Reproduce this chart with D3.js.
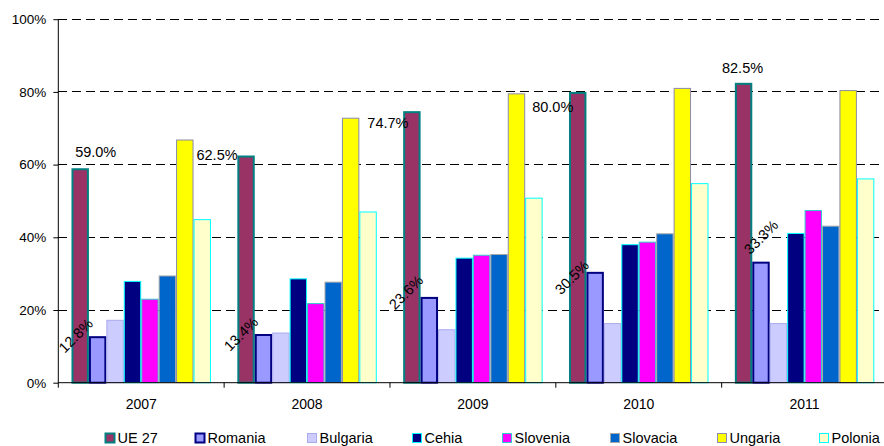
<!DOCTYPE html>
<html>
<head>
<meta charset="utf-8">
<script src="https://cdn.jsdelivr.net/npm/d3@7/dist/d3.min.js"></script>
<style>
  html, body { margin: 0; padding: 0; background: #fff; }
  svg { display: block; font-family: "Liberation Sans", Arial, sans-serif; }
</style>
</head>
<body>
<svg id="chart" width="884" height="446"></svg>
<script>
// ---------------- data ----------------
const categories = ["2007", "2008", "2009", "2010", "2011"];
const seriesNames = ["UE 27", "Romania", "Bulgaria", "Cehia", "Slovenia", "Slovacia", "Ungaria", "Polonia"];
const ue27     = [59.0, 62.5, 74.7, 80.0, 82.5];
const romania  = [12.8, 13.4, 23.6, 30.5, 33.3];
const bulgaria = [17.3, 13.8, 14.7, 16.4, 16.4];
const cehia    = [28.0, 28.7, 34.4, 38.1, 41.2];
const slovenia = [23.1, 21.9, 35.2, 38.8, 47.5];
const slovacia = [29.5, 27.8, 35.4, 41.1, 43.2];
const ungaria  = [66.9, 72.9, 79.6, 81.1, 80.5];
const polonia  = [45.0, 47.1, 50.9, 54.9, 56.2];
const yTickValues = [0, 20, 40, 60, 80, 100];

// ---------------- styles / layout ----------------
const seriesValues = [ue27, romania, bulgaria, cehia, slovenia, slovacia, ungaria, polonia];
const fills   = ["#993366", "#9999FF", "#CCCCFF", "#000080", "#FF00FF", "#0066CC", "#FFFF00", "#FFFFCC"];
const strokes = ["#008080", "#000080", "#AAAAEE", "#00FFFF", "#33CCCC", "#A8A8A8", "#8A8AAA", "#00FFFF"];
const strokeW = [2, 2, 1, 1, 1, 1, 1, 1];
// label offsets relative to bar centre / top (Excel-moved labels)
const ueLabelDx = [15.5, -29, -24, -25, -1];
const ueLabelDy = [-16.5, -0.5, 11.5, 14.7, -14.4];
const roLabelDx = [-22, -22.5, -23.3, -23.3, 0];
const roLabelDy = [-0.6, 0, -4.5, 5.5, -24.5];
const legendX = [105, 195, 307, 412, 502, 610, 717, 819];

const svg = d3.select("#chart");
const plotLeft = 58.3, plotRight = 887.5, plotTop = 19.2, plotBottom = 382.7;

const x0 = d3.scaleBand().domain(categories).range([plotLeft, plotRight]).paddingInner(0).paddingOuter(0);
const pad = x0.bandwidth() * 0.0795;
const x1 = d3.scaleBand().domain(seriesNames).range([pad, x0.bandwidth() - pad]).padding(0);
const y = d3.scaleLinear().domain([0, 100]).range([plotBottom, plotTop]);

// gridlines
svg.append("g").selectAll("line").data(yTickValues.filter(v => v > 0)).join("line")
  .attr("x1", plotLeft).attr("x2", 884)
  .attr("y1", d => y(d)).attr("y2", d => y(d))
  .attr("stroke", "#000").attr("stroke-width", 1)
  .attr("stroke-dasharray", "9,5")
  .attr("shape-rendering", "crispEdges");

// bars
const rows = [];
categories.forEach((c, i) => {
  seriesNames.forEach((s, j) => rows.push({ cat: c, ci: i, s: s, si: j, v: seriesValues[j][i] }));
});
svg.append("g").selectAll("rect").data(rows).join("rect")
  .attr("x", d => x0(d.cat) + x1(d.s) + strokeW[d.si] / 2)
  .attr("width", d => x1.bandwidth() - strokeW[d.si])
  .attr("y", d => y(d.v) + strokeW[d.si] / 2)
  .attr("height", d => Math.max(0, plotBottom - y(d.v) - strokeW[d.si] / 2))
  .attr("fill", d => fills[d.si])
  .attr("stroke", d => strokes[d.si])
  .attr("stroke-width", d => strokeW[d.si]);

// axes
const yAxis = d3.axisLeft(y).tickValues(yTickValues).tickFormat(d => d + "%").tickSize(5).tickPadding(7);
const gy = svg.append("g").attr("transform", `translate(${plotLeft},0)`).call(yAxis);
gy.select(".domain").attr("d", `M0,${plotTop}V${plotBottom + 5}`);
gy.selectAll("text").attr("font-size", 13.5).attr("font-family", "Liberation Sans, Arial, sans-serif").attr("fill", "#000");

const gx = svg.append("g").attr("transform", `translate(0,${plotBottom})`)
  .call(d3.axisBottom(x0).tickSize(0).tickPadding(16));
gx.select(".domain").attr("d", `M${plotLeft},0H${plotRight}`);
gx.selectAll("text").attr("font-size", 14).attr("font-family", "Liberation Sans, Arial, sans-serif").attr("fill", "#000");
// boundary tick marks between categories
svg.append("g").selectAll("line").data(categories.slice(1)).join("line")
  .attr("x1", d => x0(d)).attr("x2", d => x0(d))
  .attr("y1", plotBottom).attr("y2", plotBottom + 5)
  .attr("stroke", "#000");

// UE 27 labels
svg.append("g").selectAll("text").data(categories).join("text")
  .attr("x", (c, i) => x0(c) + x1("UE 27") + x1.bandwidth() / 2 + ueLabelDx[i])
  .attr("y", (c, i) => y(ue27[i]) + ueLabelDy[i])
  .attr("dy", "0.35em")
  .attr("text-anchor", "middle")
  .attr("font-size", 14.5).attr("fill", "#000")
  .text((c, i) => ue27[i].toFixed(1) + "%");

// Romania labels (rotated)
svg.append("g").selectAll("text").data(categories).join("text")
  .attr("transform", (c, i) => {
    const cx = x0(c) + x1("Romania") + x1.bandwidth() / 2 + roLabelDx[i];
    const cy = y(romania[i]) + roLabelDy[i];
    return `translate(${cx},${cy}) rotate(-45)`;
  })
  .attr("dy", "0.35em")
  .attr("text-anchor", "middle")
  .attr("font-size", 14.5).attr("fill", "#000")
  .text((c, i) => romania[i].toFixed(1) + "%");

// legend
const lg = svg.append("g").selectAll("g").data(seriesNames).join("g")
  .attr("transform", (d, i) => `translate(${legendX[i]},433)`);
lg.append("rect")
  .attr("x", 0.5).attr("y", 0.5).attr("width", 9).attr("height", 9)
  .attr("fill", (d, i) => fills[i])
  .attr("stroke", (d, i) => strokes[i])
  .attr("stroke-width", (d, i) => strokeW[i]);
lg.append("text")
  .attr("x", 12.5).attr("y", 5).attr("dy", "0.35em")
  .attr("font-size", 14.5).attr("fill", "#000")
  .text(d => d);
</script>
</body>
</html>
